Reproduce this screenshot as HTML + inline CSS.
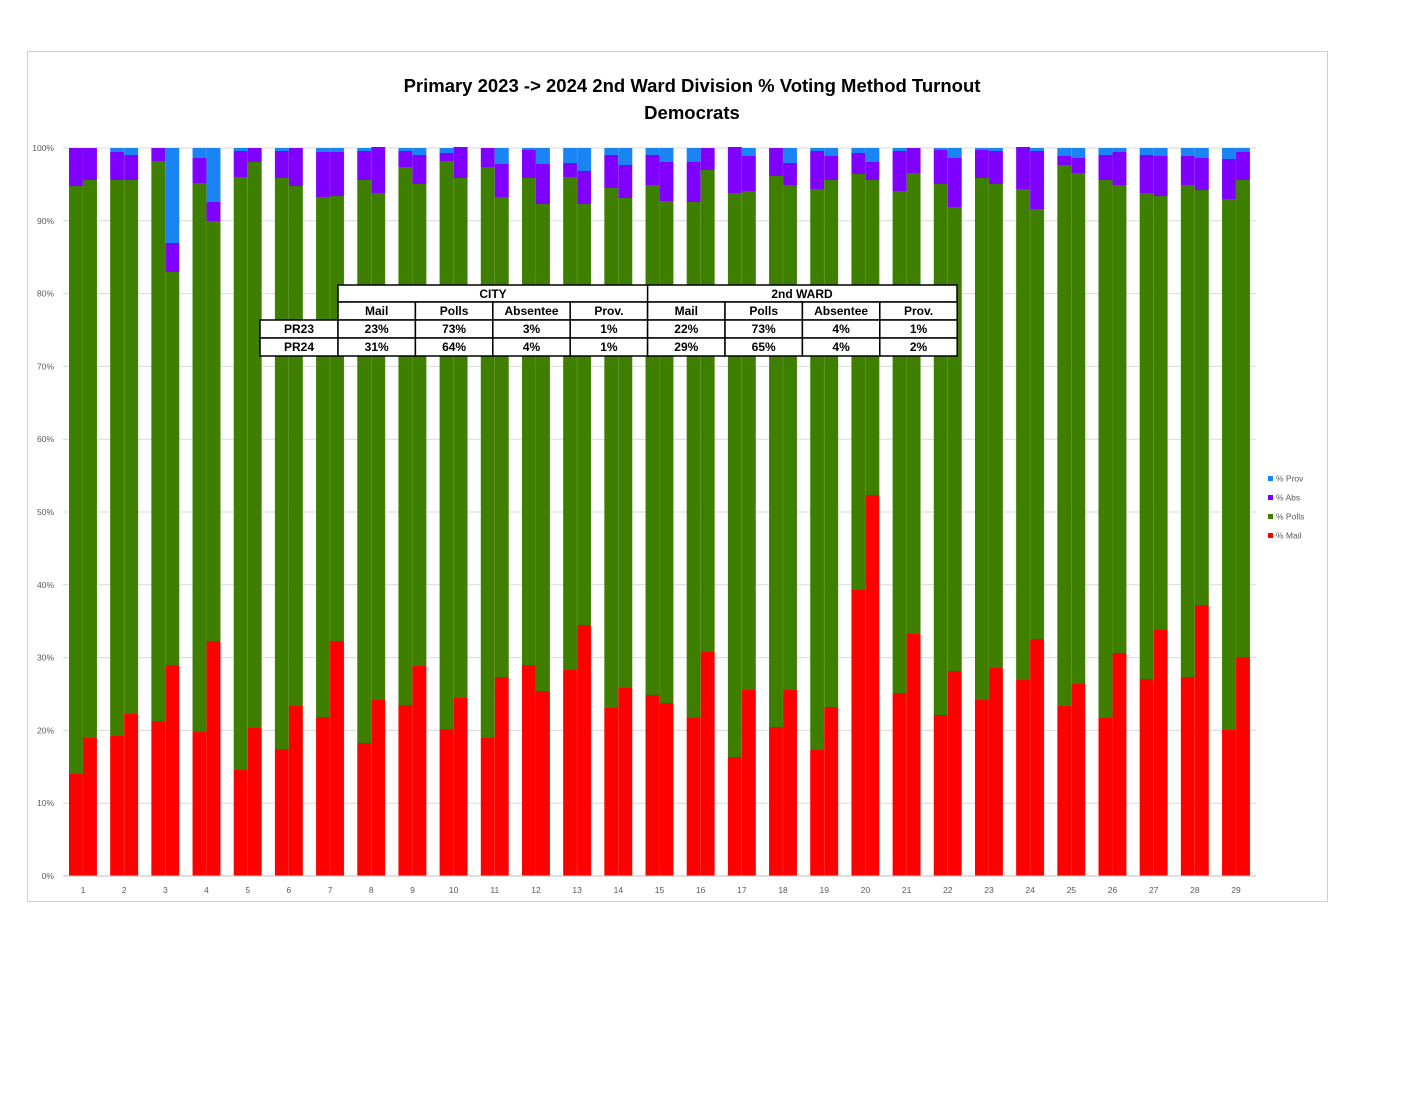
<!DOCTYPE html>
<html><head><meta charset="utf-8"><style>
body{margin:0;background:#fff;}
svg text{font-family:"Liberation Sans",sans-serif;}
</style></head><body>
<svg id="s" width="1408" height="1088" xmlns="http://www.w3.org/2000/svg">
<rect x="27.5" y="51.5" width="1300" height="850" fill="#fff" stroke="#d0d0d0"/>
<text x="692" y="92" text-anchor="middle" font-size="18.5" font-weight="bold">Primary 2023 -&gt; 2024 2nd Ward Division % Voting Method Turnout</text>
<text x="692" y="119" text-anchor="middle" font-size="18.5" font-weight="bold">Democrats</text>
<g id="g"></g>
</svg>
<script>
const d=[[774,186,148],[738,180,148],[736,180,152],[714,180,155],[721,161,148],[665,272,243],[732,183,158],[641,221,202],[770,177,151],[728,162,148],[749,178,151],[706,186,148],[717,197,152],[641,196,152],[743,180,151],[700,193,147],[705,167,151],[666,184,155],[729,161,153],[698,178,147],[738,167,148],[677,197,164],[665,178,150],[691,204,164],[670,177,163],[625,204,171],[708,188,155],[688,198,165],[695,185,155],[703,201,162],[718,202,162],[652,170,148],[757,193,147],[690,191,156],[727,176,148],[690,185,163],[750,189,151],[707,180,156],[590,174,153],[495,180,162],[693,191,151],[634,173,148],[715,184,150],[671,207,158],[700,178,150],[668,184,151],[680,189,147],[639,209,151],[706,165,156],[684,173,158],[718,180,155],[653,185,152],[679,193,155],[630,196,156],[677,185,156],[605,190,158],[730,199,159],[657,180,152]];
let h='';
for(let k=0;k<=10;k++){let y=876-72.8*k;h+=`<line x1="63" x2="1256" y1="${y}" y2="${y}" stroke="#d9d9d9"/><text x="54" y="${y+3}" text-anchor="end" font-size="8.5" fill="#595959">${k*10}%</text>`;}
for(let i=0;i<29;i++){let c=83+i*41.18;
 h+=`<text x="${c}" y="893" text-anchor="middle" font-size="8.5" fill="#595959">${i+1}</text>`;
 for(let j=0;j<2;j++){let b=d[i*2+j],x=c-14+j*14;
  h+=`<rect x="${x}" y="148" width="14" height="${b[2]-148}" fill="#1a84f5"/>`;
  h+=`<rect x="${x}" y="${b[2]}" width="14" height="${b[1]-b[2]}" fill="#7f00ff"/>`;
  h+=`<rect x="${x}" y="${b[1]}" width="14" height="${b[0]-b[1]}" fill="#3f7f00"/>`;
  h+=`<rect x="${x}" y="${b[0]}" width="14" height="${876-b[0]}" fill="#ff0000"/>`;
  h+=`<line x1="${x+14}" x2="${x+14}" y1="148" y2="876" stroke="#fff" stroke-opacity="0.25" stroke-width="0.6"/>`;
 }}
h+=`<line x1="63" x2="1256" y1="876" y2="876" stroke="#bfbfbf"/>`;
[["% Prov","#1a84f5",479],["% Abs","#7f00ff",498],["% Polls","#3f7f00",517],["% Mail","#ff0000",536]].forEach(l=>{h+=`<rect x="1268" y="${l[2]-3}" width="5" height="5" fill="${l[1]}"/><text x="1276" y="${l[2]+2.5}" font-size="8.5" fill="#595959">${l[0]}</text>`;});
// table
const cols=[338,415.4,492.8,570.2,647.6,725,802.4,879.8,957.2];
h+=`<rect x="338" y="285" width="619" height="17" fill="#fff" stroke="#000" stroke-width="1.5"/><line x1="647.6" x2="647.6" y1="285" y2="302" stroke="#000" stroke-width="1.5"/>`;
h+=`<text x="493" y="298" text-anchor="middle" font-size="12" font-weight="bold">CITY</text><text x="802" y="298" text-anchor="middle" font-size="12" font-weight="bold">2nd WARD</text>`;
const hdr=["Mail","Polls","Absentee","Prov.","Mail","Polls","Absentee","Prov."];
const r1=["23%","73%","3%","1%","22%","73%","4%","1%"],r2=["31%","64%","4%","1%","29%","65%","4%","2%"];
[[302,null,hdr],[320,"PR23",r1],[338,"PR24",r2]].forEach(r=>{let y=r[0];
 if(r[1]){h+=`<rect x="260" y="${y}" width="78" height="18" fill="#fff" stroke="#000" stroke-width="1.5"/><text x="299" y="${y+13}" text-anchor="middle" font-size="12" font-weight="bold">${r[1]}</text>`;}
 for(let c=0;c<8;c++){h+=`<rect x="${cols[c]}" y="${y}" width="${cols[c+1]-cols[c]}" height="18" fill="#fff" stroke="#000" stroke-width="1.5"/><text x="${(cols[c]+cols[c+1])/2}" y="${y+13}" text-anchor="middle" font-size="12" font-weight="bold">${r[2][c]}</text>`;}
});
document.getElementById('g').innerHTML=h;
</script>
</body></html>
